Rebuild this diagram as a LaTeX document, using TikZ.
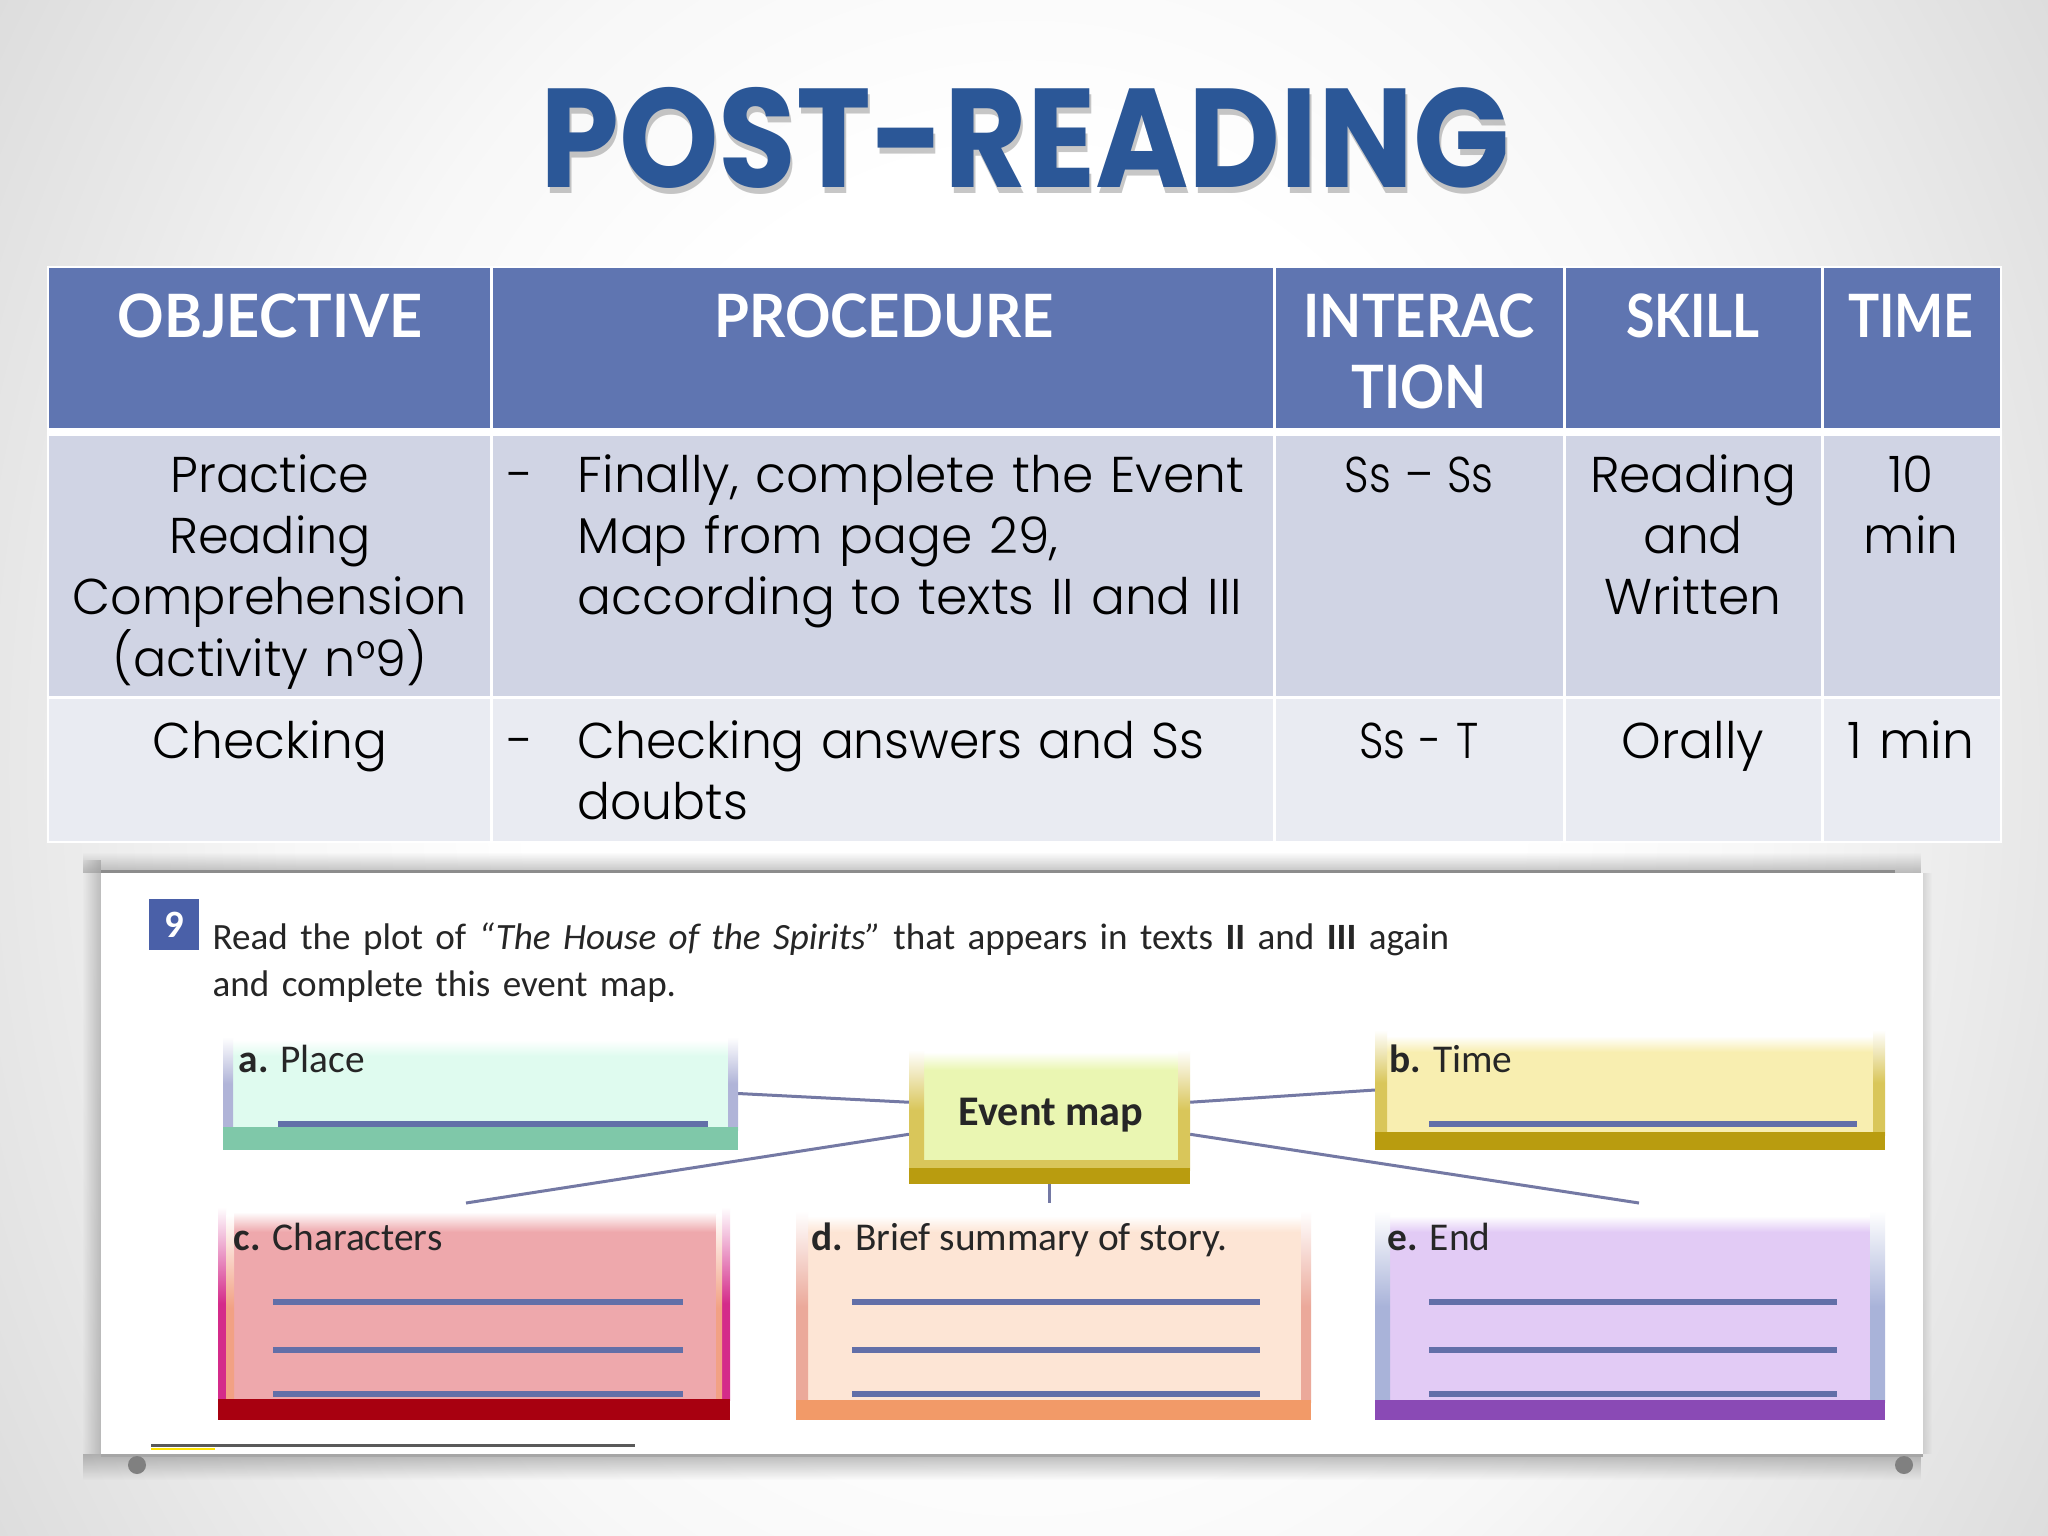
\documentclass[tikz,border=0pt]{standalone}
\usepackage{fontspec}
\usepackage{xcolor}
\usetikzlibrary{positioning}
\usetikzlibrary{fadings}
\setmainfont{Carlito}
\newfontfamily\bodyfont{Poppins}[UprightFont=* Light]
\newfontfamily\headfont{Lato}[UprightFont=* Bold]
\newfontfamily\titlefont{Poppins}[UprightFont=* Bold]

\definecolor{headblue}{HTML}{5F75B1}
\definecolor{rowdark}{HTML}{D0D4E4}
\definecolor{rowlight}{HTML}{E9EBF2}
\definecolor{titleblue}{HTML}{2B5797}
\definecolor{ruleblue}{HTML}{626FA8}
\definecolor{linkblue}{HTML}{7479A4}
\definecolor{numberblue}{HTML}{4A60A8}
\definecolor{placebody}{HTML}{DFFBEF}
\definecolor{placeside}{HTML}{B0B4D8}
\definecolor{placeband}{HTML}{7FC8A9}
\definecolor{timebody}{HTML}{F8EEB0}
\definecolor{timeside}{HTML}{D9C65A}
\definecolor{timeband}{HTML}{B99C0F}
\definecolor{eventbody}{HTML}{EAF6B2}
\definecolor{charbody}{HTML}{EEA8AC}
\definecolor{charinner}{HTML}{F2A184}
\definecolor{charside}{HTML}{D42B8A}
\definecolor{charband}{HTML}{A80010}
\definecolor{storybody}{HTML}{FDE5D5}
\definecolor{storyside}{HTML}{EBA99A}
\definecolor{storyband}{HTML}{F29A68}
\definecolor{endbody}{HTML}{E2CBF5}
\definecolor{endside}{HTML}{A9B3D9}
\definecolor{endband}{HTML}{8A4AB5}

\pgfdeclareradialshading{slideback}{\pgfpoint{0bp}{0bp}}{color(0bp)=(white); color(12bp)=(white); color(18bp)=(white!97!black); color(30bp)=(white!86!black); color(36bp)=(white!81!black); color(50bp)=(white!79!black)}

\tikzset{
  headtext/.style={inner sep=0pt, anchor=base, align=center, text=white, text width=5cm, font=\headfont\fontsize{17}{20.2}\selectfont},
  celltext/.style={inner sep=0pt, anchor=base, align=center, text=black, text width=5cm, font=\bodyfont\fontsize{14.3}{17.47}\selectfont},
  lefttext/.style={celltext, align=left, anchor=base west, text width=7cm},
  boxframe/.style={inner sep=0pt, outer sep=0pt},
  boxlabel/.style={inner sep=0pt, anchor=base west, align=left, text=black!85, font=\fontsize{11.2}{13}\selectfont},
  writeline/.style={draw=ruleblue, line width=0.6mm},
  maplink/.style={draw=linkblue, line width=0.3mm},
}

\begin{document}
\begin{tikzpicture}[x=0.01cm,y=-0.01cm]

\useasboundingbox (0,0) rectangle (2048,1536);
\fill[shading=slideback] (0,-500) rectangle (2048,2036);

\node[inner sep=0pt, anchor=base, opacity=0.22, text=black, xscale=0.9, font=\titlefont\fontsize{40}{44}\selectfont] (titleshadow) at (1027,193) {POST-READING};
\node[inner sep=0pt, anchor=base, text=titleblue, xscale=0.9, font=\titlefont\fontsize{40}{44}\selectfont] (title) at (1025,187) {POST-READING};

% table
\fill[white] (47,266) rectangle (2002,843);
\fill[headblue] (49,268) rectangle (2000,428);
\fill[rowdark] (49,436) rectangle (2000,696);
\fill[rowlight] (49,699) rectangle (2000,841);
\foreach \colx in {491,1274,1564,1822}{
  \draw[white, line width=0.3mm] (\colx,268) -- (\colx,841);
}

\node[headtext, xscale=0.965] (headobjective) at (270,337) {OBJECTIVE};
\node[headtext, xscale=0.943] (headprocedure) at (884,337) {PROCEDURE};
\node[headtext, xscale=0.915] (headinteraction) at (1419,337) {INTERAC\\TION};
\node[headtext, xscale=0.87] (headskill) at (1693,337) {SKILL};
\node[headtext, xscale=0.87] (headtime) at (1911,337) {TIME};

\node[celltext, xscale=0.98] (objectiveone) at (270,492) {Practice\\Reading\\Comprehension\\(activity n°9)};
\node[celltext] (dashone) at (521,492) {-};
\node[lefttext] (procedureone) at (577,492) {Finally, complete the Event\\Map from page 29,\\according to texts II and III};
\node[celltext, xscale=0.85] (interactionone) at (1419,492) {Ss – Ss};
\node[celltext] (skillone) at (1693,492) {Reading\\and\\Written};
\node[celltext] (timeone) at (1911,492) {10\\min};

\node[celltext] (objectivetwo) at (270,758) {Checking};
\node[celltext] (dashtwo) at (521,758) {-};
\node[lefttext, xscale=0.97] (proceduretwo) at (577,758) {Checking answers and Ss\\doubts};
\node[celltext, xscale=0.85] (interactiontwo) at (1419,758) {Ss - T};
\node[celltext] (skilltwo) at (1693,758) {Orally};
\node[celltext] (timetwo) at (1911,758) {1 min};

% picture panel
\fill[black!45, path fading=west, opacity=0.5] (82,860) rectangle (101,1454);
\fill[black!45, path fading=north, opacity=0.55] (84,852) rectangle (1923,873);
\fill[black!45, path fading=south, opacity=0.6] (84,1454) rectangle (1923,1480);
\fill[black!45, path fading=east, opacity=0.25] (1923,873) rectangle (1932,1454);
\fill[white] (101,873) rectangle (1923,1454);
\draw[black!45, line width=0.3mm] (101,871.5) -- (1895,871.5);
\draw[black!35, line width=0.3mm] (101,1455.5) -- (1923,1455.5);

\node[fill=numberblue, inner sep=0pt, text=white, minimum width=0.5cm, minimum height=0.51cm, font=\bfseries\fontsize{11}{13}\selectfont] (numberbox) at (174,924.5) {9};
\node[boxlabel, text width=13.5cm, font=\fontsize{10.55}{13.6}\selectfont] (instruction) at (212,949) {Read the plot of \textit{“The House of the Spirits”} that appears in texts \textbf{II} and \textbf{III} again\\and complete this event map.};

\draw[black!65, line width=0.3mm] (151,1445) -- (635,1445);
\draw[yellow!85!orange, line width=0.2mm] (151,1449) -- (215,1449);

% links go under the boxes
\node[boxframe, minimum width=5.15cm, minimum height=1.13cm] (placebox) at (480.5,1093.5) {};
\node[boxframe, minimum width=5.10cm, minimum height=1.20cm] (timebox) at (1630,1090) {};
\node[boxframe, minimum width=2.81cm, minimum height=1.34cm] (eventbox) at (1049.5,1117) {};
\coordinate (charactertip) at (466,1203);
\coordinate (summarytip) at (1049.5,1203);
\coordinate (endtip) at (1639,1203);

\draw[maplink] (placebox.east) -- (eventbox.174);
\draw[maplink] (eventbox.187) -- (charactertip);
\draw[maplink] (eventbox.south) -- (summarytip);
\draw[maplink] (eventbox.6) -- (timebox.west);
\draw[maplink] (eventbox.353) -- (endtip);

% a. Place
\fill[top color=white, bottom color=placebody] (233,1040) rectangle (728,1056);
\fill[placebody] (233,1056) rectangle (728,1130);
\fill[top color=white, bottom color=placeside, middle color=placeside] (223,1037) rectangle (233,1130);
\fill[top color=white, bottom color=placeside, middle color=placeside] (728,1037) rectangle (738,1130);
\fill[placeband] (223,1127) rectangle (738,1150);
\draw[writeline] (278,1124) -- (708,1124);
\node[boxlabel] (placelabel) at (238,1072) {\textbf{a.} Place};

% b. Time
\fill[top color=white, bottom color=timebody] (1387,1036) rectangle (1873,1052);
\fill[timebody] (1387,1052) rectangle (1873,1135);
\fill[top color=white, bottom color=timeside, middle color=timeside] (1375,1030) rectangle (1387,1135);
\fill[top color=white, bottom color=timeside, middle color=timeside] (1873,1030) rectangle (1885,1135);
\fill[timeband] (1375,1132) rectangle (1885,1150);
\draw[writeline] (1429,1124) -- (1857,1124);
\node[boxlabel] (timelabel) at (1389,1072) {\textbf{b.} Time};

% Event map
\fill[top color=white, bottom color=eventbody] (924,1052) rectangle (1178,1070);
\fill[eventbody] (924,1070) rectangle (1178,1168);
\fill[top color=white, bottom color=timeside, middle color=timeside] (909,1050) rectangle (924,1170);
\fill[top color=white, bottom color=timeside, middle color=timeside] (1178,1050) rectangle (1190,1170);
\fill[timeside] (924,1160) rectangle (1178,1168);
\fill[timeband] (909,1168) rectangle (1190,1184);
\node[boxlabel, anchor=center, font=\bfseries\fontsize{12}{14}\selectfont] (eventlabel) at (1051,1115) {Event map};

% c. Characters
\fill[top color=white, bottom color=charbody] (234,1212) rectangle (716,1232);
\fill[charbody] (234,1232) rectangle (716,1400);
\fill[top color=white, bottom color=charside, middle color=charside] (218,1207) rectangle (226,1400);
\fill[top color=white, bottom color=charside, middle color=charside] (722,1207) rectangle (730,1400);
\fill[top color=white, bottom color=charinner, middle color=charinner] (226,1215) rectangle (234,1400);
\fill[top color=white, bottom color=charinner, middle color=charinner] (716,1215) rectangle (722,1400);
\fill[charband] (218,1399) rectangle (730,1420);
\draw[writeline] (273,1302) -- (683,1302);
\draw[writeline] (273,1350) -- (683,1350);
\draw[writeline] (273,1394) -- (683,1394);
\node[boxlabel] (characterlabel) at (233,1250) {\textbf{c.} Characters};

% d. Brief summary of story.
\fill[top color=white, bottom color=storybody] (808,1216) rectangle (1301,1232);
\fill[storybody] (808,1232) rectangle (1301,1402);
\fill[top color=white, bottom color=storyside, middle color=storyside] (796,1211) rectangle (808,1402);
\fill[top color=white, bottom color=storyside, middle color=storyside] (1301,1211) rectangle (1311,1402);
\fill[storyband] (796,1400) rectangle (1311,1420);
\draw[writeline] (852,1302) -- (1260,1302);
\draw[writeline] (852,1350) -- (1260,1350);
\draw[writeline] (852,1394) -- (1260,1394);
\node[boxlabel] (summarylabel) at (811,1250) {\textbf{d.} Brief summary of story.};

% e. End
\fill[top color=white, bottom color=endbody] (1390,1216) rectangle (1870,1232);
\fill[endbody] (1390,1232) rectangle (1870,1402);
\fill[top color=white, bottom color=endside, middle color=endside] (1375,1211) rectangle (1390,1402);
\fill[top color=white, bottom color=endside, middle color=endside] (1870,1211) rectangle (1885,1402);
\fill[endband] (1375,1400) rectangle (1885,1420);
\draw[writeline] (1429,1302) -- (1837,1302);
\draw[writeline] (1429,1350) -- (1837,1350);
\draw[writeline] (1429,1394) -- (1837,1394);
\node[boxlabel] (endlabel) at (1387,1250) {\textbf{e.} End};

\fill[black!50] (137,1465) circle [radius=9];
\fill[black!50] (1904,1465) circle [radius=9];

\end{tikzpicture}
\end{document}
